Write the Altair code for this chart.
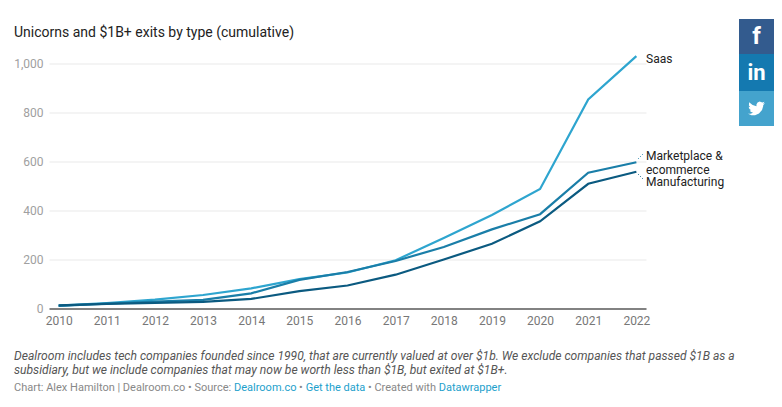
import altair as alt
import pandas as pd

years = list(range(2010, 2023))
saas = [12, 22, 36, 55, 82, 120, 147, 197, 288, 382, 488, 853, 1030]
marketplace = [11, 20, 28, 35, 62, 117, 149, 194, 251, 323, 385, 554, 597]
manufacturing = [13, 19, 23, 27, 39, 71, 94, 138, 200, 264, 356, 509, 558]
series_names = ["Saas", "Marketplace & ecommerce", "Manufacturing"]
series_colors = ["#2ea5cf", "#1a7ea8", "#0b5a80"]

FONT = "Roboto"
LEFT, TOP, W, H = 49, 63.5, 597, 245

rows = []
for name, vals in zip(series_names, [saas, marketplace, manufacturing]):
    for y, v in zip(years, vals):
        rows.append({"year": y, "value": v, "series": name})
df = pd.DataFrame(rows)

base = alt.Chart(df)
lines = base.mark_line(strokeWidth=2.2, clip=False).encode(
    x=alt.X("year:O", scale=alt.Scale(type="point", padding=0.2), title=None,
            axis=alt.Axis(labelAngle=0, ticks=False, domain=True, domainColor="#111111",
                          domainWidth=1.2, grid=False, labelColor="#777777", labelFont=FONT,
                          labelFontSize=12, labelPadding=7, labelFlush=False)),
    y=alt.Y("value:Q", scale=alt.Scale(domain=[0, 1000], nice=False), title=None,
            axis=alt.Axis(values=[0, 200, 400, 600, 800, 1000], format=",d", ticks=False, domain=False,
                          grid=True, gridColor="#e9e9e9", gridWidth=1, labelColor="#a0a0a0",
                          labelFont=FONT, labelFontSize=12, labelPadding=6)),
    color=alt.Color("series:N", scale=alt.Scale(domain=series_names, range=series_colors), legend=None),
    order=alt.Order("year:O"),
)


def txt(s, px, py, size=12, color="#222222", style="normal", weight="normal", align="left", font=FONT):
    return alt.Chart(pd.DataFrame({"t": [s]})).mark_text(
        align=align, baseline="middle", font=font, fontSize=size, color=color,
        fontStyle=style, fontWeight=weight,
    ).encode(x=alt.value(px - LEFT), y=alt.value(py - TOP), text="t:N")


def box(x0, x1, y0, y1, color):
    return alt.Chart(pd.DataFrame({"a": [0]})).mark_rect(color=color).encode(
        x=alt.value(x0 - LEFT), x2=alt.value(x1 - LEFT), y=alt.value(y0 - TOP), y2=alt.value(y1 - TOP))


def dotted(x0, y0, x1, y1, color):
    return alt.Chart(pd.DataFrame({"a": [0]})).mark_rule(
        color=color, strokeDash=[1, 2], strokeWidth=1).encode(
        x=alt.value(x0 - LEFT), x2=alt.value(x1 - LEFT), y=alt.value(y0 - TOP), y2=alt.value(y1 - TOP))


bird_pts = [(24, 4.6), (21.5, 6.9), (21.4, 9), (19.8, 14), (15.5, 19), (10, 21.5), (5, 21.5), (0, 19.5),
            (3.5, 19.4), (7.1, 18.1), (3.8, 16.6), (2.5, 14.7), (4.7, 14.6), (2, 12.7), (.9, 9.7), (3.2, 10.3),
            (1.3, 7.7), (1.6, 3.2), (6.5, 7.2), (12, 8.9), (11.9, 6.5), (13.5, 3.5), (16.5, 2.2), (20.2, 3.6),
            (23.3, 2.6), (21.2, 5.3)]
bird_path = "M" + "L".join(f"{(a-12)/12:.3f},{(b-12)/12:.3f}" for a, b in bird_pts) + "Z"
bird = alt.Chart(pd.DataFrame({"a": [0]})).mark_point(
    shape=bird_path, filled=True, color="#ffffff", opacity=1, size=290, strokeWidth=0
).encode(x=alt.value(756.5 - LEFT), y=alt.value(108.5 - TOP))

note1 = "Dealroom includes tech companies founded since 1990, that are currently valued at over $1b. We exclude companies that passed $1B as a"
note2 = "subsidiary, but we include companies that may now be worth less than $1B, but exited at $1B+."

layers = [
    lines,
    txt("Unicorns and $1B+ exits by type (cumulative)", 14, 32.5, size=14, color="#222222"),
    txt("Saas", 646, 59), txt("Marketplace &", 646, 156), txt("ecommerce", 646, 170), txt("Manufacturing", 646, 182),
    dotted(638, 159, 643, 154, "#1a7ea8"), dotted(638, 174, 643, 179, "#0b5a80"),
    txt(note1, 14, 356, size=12.1, color="#555555", style="italic"),
    txt(note2, 14, 370, size=12.1, color="#555555", style="italic"),
    txt("Chart: Alex Hamilton | Dealroom.co • Source:", 14, 388, size=11, color="#888888"),
    txt("Dealroom.co", 234, 388, size=11, color="#1d9fcc"),
    txt("•", 299, 388, size=11, color="#888888"),
    txt("Get the data", 305.7, 388, size=11, color="#1d9fcc"),
    txt("• Created with", 368, 388, size=11, color="#888888"),
    txt("Datawrapper", 438.7, 388, size=11, color="#1d9fcc"),
    box(739, 774, 19, 54, "#335b8e"), box(739, 774, 54, 91, "#1479b0"), box(739, 774, 91, 126, "#44a3cd"),
    txt("f", 756.5, 37, size=24, color="#ffffff", weight="bold", align="center"),
    txt("in", 756.5, 73, size=22, color="#ffffff", weight="bold", align="center"),
    bird,
]

chart = alt.layer(*layers).properties(
    width=W, height=H,
    autosize=alt.AutoSizeParams(type="none"),
    padding={"left": LEFT - 8, "top": TOP - 8, "right": 128, "bottom": 90},
    background="#ffffff",
).configure_view(stroke=None)

chart.save("out.html", embed_options={"renderer": "svg", "actions": False})
